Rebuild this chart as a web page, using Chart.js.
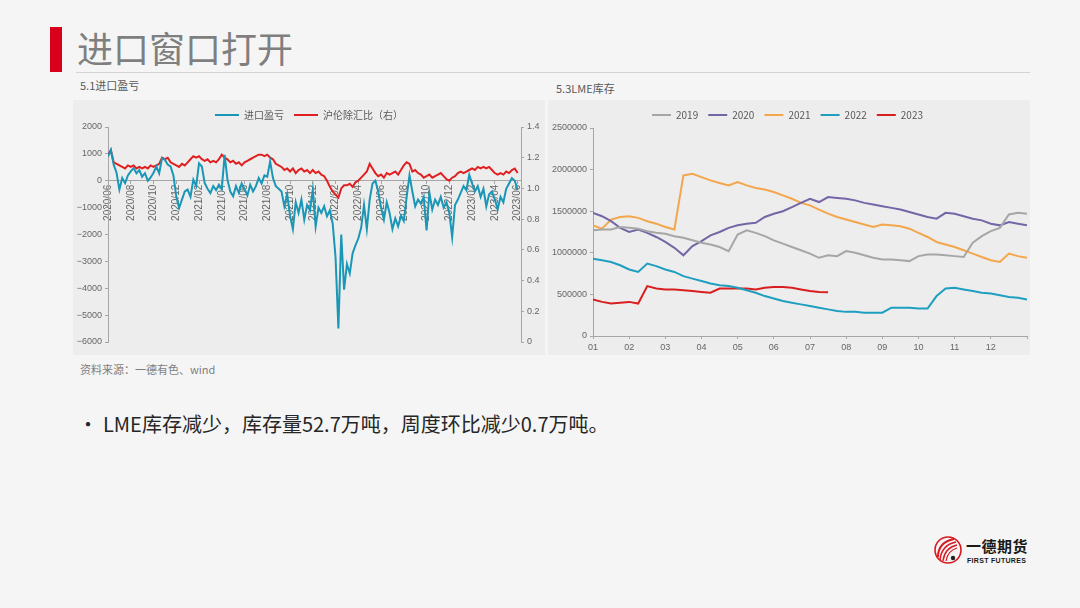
<!DOCTYPE html>
<html>
<head>
<meta charset="utf-8">
<script src="https://cdn.jsdelivr.net/npm/chart.js@4.4.0/dist/chart.umd.min.js"></script>
<style>
  body { margin: 0; width: 1080px; height: 608px; background: #f5f5f5; position: relative; overflow: hidden;
         font-family: "Noto Sans CJK SC", "Noto Sans", sans-serif; }
  .bar { position: absolute; left: 50px; top: 27px; width: 12px; height: 45px; background: #d9001b; }
  .title { position: absolute; left: 77px; top: 29px; font-size: 36px; line-height: 36px; color: #7f7f7f; }
  .rule { position: absolute; left: 76px; top: 72px; width: 954px; height: 1px; background: #d4d4d4; }
  .sub { position: absolute; font-size: 11px; line-height: 14px; color: #595959; }
  .panel { position: absolute; background: #eeeded; }
  .panel canvas { display: block; }
  .bullet { position: absolute; left: 78px; top: 411px; font-size: 20px; line-height: 26px; color: #262626; }
  .bullet span { display: inline-block; width: 25px; }
  .logo { position: absolute; left: 933px; top: 533px; }
  .brand { position: absolute; left: 966px; top: 537px; font-size: 15px; line-height: 18px; font-weight: bold; color: #1a1a1a; letter-spacing: 0.5px; }
  .brand-en { position: absolute; left: 967px; top: 556px; font-family: "Liberation Sans", Arial, sans-serif; font-size: 7px; line-height: 9px; font-weight: bold; color: #1a1a1a; letter-spacing: 0.3px; }
</style>
</head>
<body>
<div class="bar"></div>
<div class="title">进口窗口打开</div>
<div class="rule"></div>
<div class="sub" style="left:80px;top:78px;">5.1进口盈亏</div>
<div class="sub" style="left:556px;top:81px;">5.3LME库存</div>

<div class="panel" style="left:73px;top:100px;width:472px;height:255px;">
  <canvas id="profitChart" width="472" height="255"></canvas>
</div>
<div class="panel" style="left:548px;top:100px;width:482px;height:255px;">
  <canvas id="lmeChart" width="482" height="255"></canvas>
</div>

<div class="sub" style="left:80px;top:362px;color:#7f7f7f;">资料来源：一德有色、wind</div>
<div class="bullet"><span>•</span>LME库存减少，库存量52.7万吨，周度环比减少0.7万吨。</div>

<svg class="logo" width="32" height="34" viewBox="0 0 32 34">
  <circle cx="15" cy="17" r="13" fill="none" stroke="#d9181f" stroke-width="1.6"/>
  <path d="M5 24 C5 14 11 8 21 6" stroke="#d9181f" stroke-width="2" fill="none"/>
  <path d="M7 27 C8 17 13 11 23 9" stroke="#d9181f" stroke-width="1.6" fill="none"/>
  <path d="M10 28 C11 20 15 14 24 12" stroke="#d9181f" stroke-width="1.4" fill="none"/>
  <path d="M13 28 C14 22 17 17 24 15" stroke="#d9181f" stroke-width="1.2" fill="none"/>
  <circle cx="20" cy="25" r="2.2" fill="#222"/>
</svg>
<div class="brand">一德期货</div>
<div class="brand-en">FIRST FUTURES</div>

<script>
// ---- 5.1 import profit (4 readings per month, starting 2020/06) ----
const profit = [
  900, 1150, 600, 300,   -330, 100, -90, 200,   350, 470, 280, 400,   150, 280, 0, 120,
  300, 530, 280, 840,    780, 600, 530, 200,   -580, -1010, -700, -400, -330, -600, 40, -200,
  650, 530, -90, -300,   -460, -200, -350, -150, -300, 960, 40, -400,  -580, -200, -450, -100,
  -300, -550, -150, -400, -200, 100, -100, 200, 150, 720, 100, -200,  -300, -400, -950, -500,
  -1300, -1800, -800, -1200, -700, -1450, -900, -1100, -330, -1700, -1000, -1200, -950, -1320, -1100, -1600,
  -2850, -5500, -2000, -4050, -3100, -3450, -2700, -2400, -2150, -1750, -900, -1800, -700, -100, 0, -400,
  -1000, -1450, -800, -1200, -1800, -1400, -1700, -1300, -1500, -600, 200, -400, -950, -700, -850, -600,
  -1850, -450, -1070, -700, -900, -600, -1000, -800, -1200, -2100, -900, -700, -450, -200, -350, 220,
  -100, -400, -200, -600, -300, -950, -500, -400, -700, -1070, -600, -800, -300, -100, 100, 0,
  -330
];
const ratio = [
  1.22, 1.25, 1.17, 1.16,  1.15, 1.14, 1.13, 1.15,  1.14, 1.15, 1.13, 1.14,  1.13, 1.14, 1.13, 1.15,
  1.14, 1.15, 1.16, 1.20,  1.19, 1.20, 1.17, 1.16,  1.15, 1.14, 1.16, 1.15,  1.17, 1.19, 1.21, 1.20,
  1.21, 1.19, 1.18, 1.19,  1.17, 1.18, 1.17, 1.19,  1.22, 1.20, 1.19, 1.17,  1.18, 1.16, 1.17, 1.15,
  1.17, 1.18, 1.19, 1.20,  1.21, 1.22, 1.22, 1.21,  1.22, 1.20, 1.19, 1.16,  1.15, 1.14, 1.12, 1.13,
  1.11, 1.13, 1.10, 1.12,  1.13, 1.11, 1.12, 1.10,  1.12, 1.10, 1.11, 1.09,  1.08, 1.05, 1.01, 0.98,
  0.96, 0.94, 1.00, 1.02,  1.02, 1.03, 1.01, 1.04,  1.05, 1.07, 1.09, 1.11,  1.16, 1.13, 1.10, 1.08,
  1.09, 1.07, 1.10, 1.09,  1.10, 1.11, 1.09, 1.12,  1.15, 1.17, 1.16, 1.11,  1.12, 1.10, 1.09, 1.07,
  1.08, 1.09, 1.07, 1.08,  1.09, 1.10, 1.08, 1.06,  1.05, 1.07, 1.08, 1.10,  1.11, 1.10, 1.11, 1.12,
  1.13, 1.12, 1.14, 1.13,  1.14, 1.13, 1.14, 1.12,  1.10, 1.09, 1.10, 1.09,  1.11, 1.10, 1.12, 1.13,
  1.10
];

// ---- 5.3 LME stocks, tonnes (4 readings per month, Jan..Dec) ----
const lme2019 = [
  1270000, 1280000, 1280000, 1310000, 1300000, 1290000, 1260000, 1240000, 1230000, 1200000, 1180000, 1150000,
  1120000, 1100000, 1070000, 1020000, 1220000, 1270000, 1240000, 1200000, 1150000, 1110000, 1070000, 1030000,
  990000, 940000, 970000, 960000, 1020000, 1000000, 970000, 940000, 920000, 920000, 910000, 900000,
  960000, 980000, 980000, 970000, 960000, 950000, 1120000, 1200000, 1260000, 1300000, 1460000, 1480000,
  1470000
];
const lme2020 = [
  1480000, 1440000, 1380000, 1300000, 1250000, 1280000, 1240000, 1190000, 1130000, 1060000, 970000, 1080000,
  1140000, 1210000, 1250000, 1300000, 1330000, 1350000, 1360000, 1430000, 1470000, 1500000, 1550000, 1600000,
  1650000, 1610000, 1670000, 1660000, 1650000, 1630000, 1600000, 1580000, 1560000, 1540000, 1520000, 1490000,
  1460000, 1430000, 1410000, 1480000, 1470000, 1440000, 1410000, 1390000, 1350000, 1330000, 1370000, 1350000,
  1330000
];
const lme2021 = [
  1330000, 1290000, 1400000, 1430000, 1440000, 1420000, 1380000, 1350000, 1310000, 1280000, 1930000, 1950000,
  1910000, 1870000, 1840000, 1810000, 1850000, 1810000, 1780000, 1760000, 1730000, 1690000, 1650000, 1600000,
  1570000, 1520000, 1470000, 1430000, 1400000, 1370000, 1340000, 1310000, 1340000, 1330000, 1320000, 1290000,
  1240000, 1190000, 1130000, 1100000, 1070000, 1030000, 990000, 950000, 910000, 890000, 990000, 960000,
  940000
];
const lme2022 = [
  930000, 910000, 890000, 850000, 800000, 770000, 870000, 840000, 800000, 770000, 720000, 690000,
  660000, 630000, 610000, 600000, 580000, 550000, 520000, 480000, 450000, 420000, 400000, 380000,
  360000, 340000, 320000, 300000, 290000, 290000, 280000, 280000, 280000, 340000, 340000, 340000,
  330000, 330000, 480000, 570000, 580000, 560000, 540000, 520000, 510000, 490000, 470000, 460000,
  440000
];
const lme2023 = [
  440000, 410000, 390000, 400000, 410000, 390000, 600000, 570000, 560000, 560000, 550000, 540000,
  530000, 520000, 570000, 570000, 570000, 570000, 560000, 580000, 590000, 590000, 580000, 560000,
  540000, 530000, 527000
];

const TEAL = '#1a96b6';
const RED = '#e02020';
const AXIS = '#a6a6a6';
const TICK_TEXT = '#666666';
const tickFont = { family: '"Liberation Sans", Arial, sans-serif', size: 9 };
const legendFont = { family: '"Noto Sans CJK SC", sans-serif', size: 10 };

function toPoints(values) {
  return values.map((v, i) => ({ x: i / 4, y: v }));
}

function monthLabel(v) {
  const total = 5 + v;               // months since 2020/01
  const year = 2020 + Math.floor(total / 12);
  const mon = (total % 12) + 1;
  return year + '/' + String(mon).padStart(2, '0');
}

function lineLegend(boxWidth) {
  return {
    position: 'top',
    maxHeight: 27,
    labels: {
      font: legendFont,
      color: '#595959',
      boxWidth: boxWidth,
      boxHeight: 2,
      padding: 10,
      generateLabels: (chart) => Chart.defaults.plugins.legend.labels.generateLabels(chart).map(item => {
        item.fillStyle = item.strokeStyle;
        item.lineWidth = 0;
        return item;
      })
    }
  };
}

function axisStyle() {
  return {
    grid: { drawOnChartArea: false, tickLength: 3, color: AXIS },
    border: { color: AXIS }
  };
}

new Chart(document.getElementById('profitChart'), {
  type: 'line',
  data: {
    datasets: [
      { label: '进口盈亏', data: toPoints(profit), yAxisID: 'y',
        borderColor: TEAL, backgroundColor: TEAL, borderWidth: 2, pointRadius: 0 },
      { label: '沪伦除汇比（右）', data: toPoints(ratio), yAxisID: 'y1',
        borderColor: RED, backgroundColor: RED, borderWidth: 2, pointRadius: 0 }
    ]
  },
  options: {
    responsive: false,
    animation: false,
    layout: { padding: { left: 0, right: 0, top: 0, bottom: 13 } },
    plugins: { legend: lineLegend(24), tooltip: { enabled: false } },
    scales: {
      x: {
        type: 'linear', position: { y: 0 }, min: 0, max: 36.3,
        afterFit: (s) => { s.height = 0; },
        ticks: { stepSize: 2, includeBounds: false, autoSkip: false, minRotation: 90, maxRotation: 90,
                 padding: 1, font: { ...tickFont, size: 10 }, color: TICK_TEXT, callback: (v) => monthLabel(v) },
        ...axisStyle()
      },
      y: {
        position: 'left', min: -6000, max: 2000,
        afterFit: (s) => { s.width = 35; },
        ticks: { stepSize: 1000, font: tickFont, color: TICK_TEXT,
                 callback: (v) => String(v).replace('-', '\u2212') },
        ...axisStyle()
      },
      y1: {
        position: 'right', min: 0, max: 1.4,
        afterFit: (s) => { s.width = 24; },
        ticks: { stepSize: 0.2, font: tickFont, color: TICK_TEXT },
        ...axisStyle()
      }
    }
  }
});

const years = ['2019', '2020', '2021', '2022', '2023'];
const yearValues = [lme2019, lme2020, lme2021, lme2022, lme2023];
const yearColors = ['#a6a6a6', '#7466a6', '#f4a64c', '#1f9fc0', '#d81e1e'];

new Chart(document.getElementById('lmeChart'), {
  type: 'line',
  data: {
    datasets: years.map((y, i) => ({
      label: y, data: toPoints(yearValues[i]),
      borderColor: yearColors[i], backgroundColor: yearColors[i], borderWidth: 2, pointRadius: 0
    }))
  },
  options: {
    responsive: false,
    animation: false,
    layout: { padding: { left: 0, right: 3, top: 0, bottom: 0 } },
    plugins: { legend: { ...lineLegend(19), maxHeight: 28 }, tooltip: { enabled: false } },
    scales: {
      x: {
        type: 'linear', min: 0, max: 12,
        afterFit: (s) => { s.height = 19; },
        ticks: { stepSize: 1, autoSkip: false, maxRotation: 0, padding: 3, font: tickFont, color: TICK_TEXT,
                 callback: (v) => v < 12 ? String(v + 1).padStart(2, '0') : '' },
        ...axisStyle()
      },
      y: {
        min: 0, max: 2500000,
        afterFit: (s) => { s.width = 45; },
        ticks: { stepSize: 500000, font: tickFont, color: TICK_TEXT, callback: (v) => String(v) },
        ...axisStyle()
      }
    }
  }
});
</script>
</body>
</html>
